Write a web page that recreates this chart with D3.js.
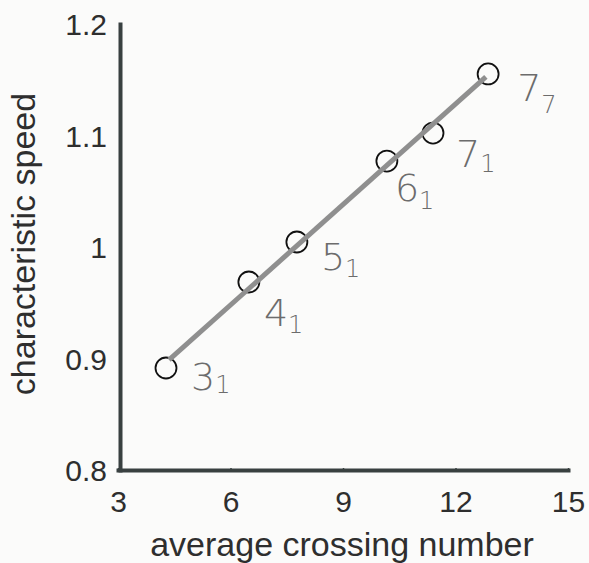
<!DOCTYPE html>
<html>
<head>
<meta charset="utf-8">
<script src="https://cdn.jsdelivr.net/npm/d3@7"></script>
<style>
  html, body { margin: 0; padding: 0; background: #fbfbfa; }
  svg { display: block; }
</style>
</head>
<body>
<svg id="chart" width="589" height="563"></svg>
<script>
// Knot labels (crossing number + subscript index)
const knotNumber = ["3", "4", "5", "6", "7", "7"];
const knotIndex  = ["1", "1", "1", "1", "1", "7"];
// Average crossing number (x) and characteristic speed (y) per knot
const avgCrossing = [4.28, 6.49, 7.77, 10.17, 11.40, 12.87];
const charSpeed   = [0.8915, 0.9686, 1.0045, 1.0771, 1.1022, 1.1552];
// Linear fit drawn through the points (endpoints)
const fitX = [4.36, 12.81];
const fitY = [0.8987, 1.1525];
// Axis ticks
const xTicks = [3, 6, 9, 12, 15];
const yTicks = [0.8, 0.9, 1.0, 1.1, 1.2];
const yTickLabels = ["0.8", "0.9", "1", "1.1", "1.2"];

const svg = d3.select("#chart");
const x = d3.scaleLinear().domain([3, 15]).range([118, 568]);
const y = d3.scaleLinear().domain([0.8, 1.2]).range([470, 24]);

const axisColor = "#394040";
const tickFont = "'Liberation Sans', Arial, sans-serif";

// x axis
const gx = svg.append("g").attr("transform", `translate(0,${y(0.8)})`)
  .call(d3.axisBottom(x).tickValues(xTicks).tickSizeInner(-2).tickSizeOuter(0).tickPadding(21));
gx.select(".domain").attr("stroke", axisColor).attr("stroke-width", 4)
  .attr("stroke-linecap", "square");
gx.selectAll(".tick line").attr("stroke", axisColor).attr("stroke-width", 1.5);
gx.selectAll(".tick text").attr("font-family", tickFont).attr("font-size", 30)
  .attr("fill", "#2e2e2e").attr("dy", "0.71em");

// y axis
const gy = svg.append("g").attr("transform", `translate(${x(3) + 2},0)`)
  .call(d3.axisLeft(y).tickValues(yTicks).tickSizeInner(-2).tickSizeOuter(0).tickPadding(13)
    .tickFormat((d, i) => yTickLabels[i]));
gy.select(".domain").attr("stroke", axisColor).attr("stroke-width", 4)
  .attr("stroke-linecap", "square");
gy.selectAll(".tick line").attr("stroke", axisColor).attr("stroke-width", 1.5);
gy.selectAll(".tick text").attr("font-family", tickFont).attr("font-size", 30)
  .attr("fill", "#2e2e2e").attr("dy", "0.36em");

// axis titles
svg.append("text")
  .attr("x", 342).attr("y", 556)
  .attr("text-anchor", "middle")
  .attr("font-family", tickFont).attr("font-size", 34).attr("fill", "#2e2e2e")
  .text("average crossing number");
svg.append("text")
  .attr("transform", "translate(35,244) rotate(-90)")
  .attr("text-anchor", "middle")
  .attr("font-family", tickFont).attr("font-size", 34).attr("fill", "#2e2e2e")
  .text("characteristic speed");

const pts = avgCrossing.map((v, i) => ({ x: v, y: charSpeed[i], n: knotNumber[i], k: knotIndex[i] }));

// open circle markers
svg.append("g").selectAll("circle").data(pts).join("circle")
  .attr("cx", d => x(d.x)).attr("cy", d => y(d.y)).attr("r", 10.5)
  .attr("fill", "none").attr("stroke", "#111").attr("stroke-width", 1.8);

// fitted line
svg.append("path")
  .datum(fitX.map((v, i) => [v, fitY[i]]))
  .attr("d", d3.line().x(d => x(d[0])).y(d => y(d[1])))
  .attr("fill", "none").attr("stroke", "#8f8f8f").attr("stroke-width", 5);

// hand-written style knot labels; offset of each label from its marker
const labelNudge = [[25, 22], [15, 44], [24, 28], [8, 40], [23, 34], [29, 27]];
const subDrop = [3, 7, 7, 8, 5, 12];
const lab = svg.append("g").selectAll("text").data(pts).join("text")
  .attr("x", (d, i) => x(d.x) + labelNudge[i][0])
  .attr("y", (d, i) => y(d.y) + labelNudge[i][1])
  .attr("font-family", "'DejaVu Sans', sans-serif")
  .attr("font-weight", 200)
  .attr("fill", "#6c6c6c");
lab.append("tspan").attr("font-size", 38).text(d => d.n);
lab.append("tspan").attr("font-size", 24).attr("dx", 0)
  .attr("dy", (d, i) => subDrop[i]).text(d => d.k);
</script>
</body>
</html>
